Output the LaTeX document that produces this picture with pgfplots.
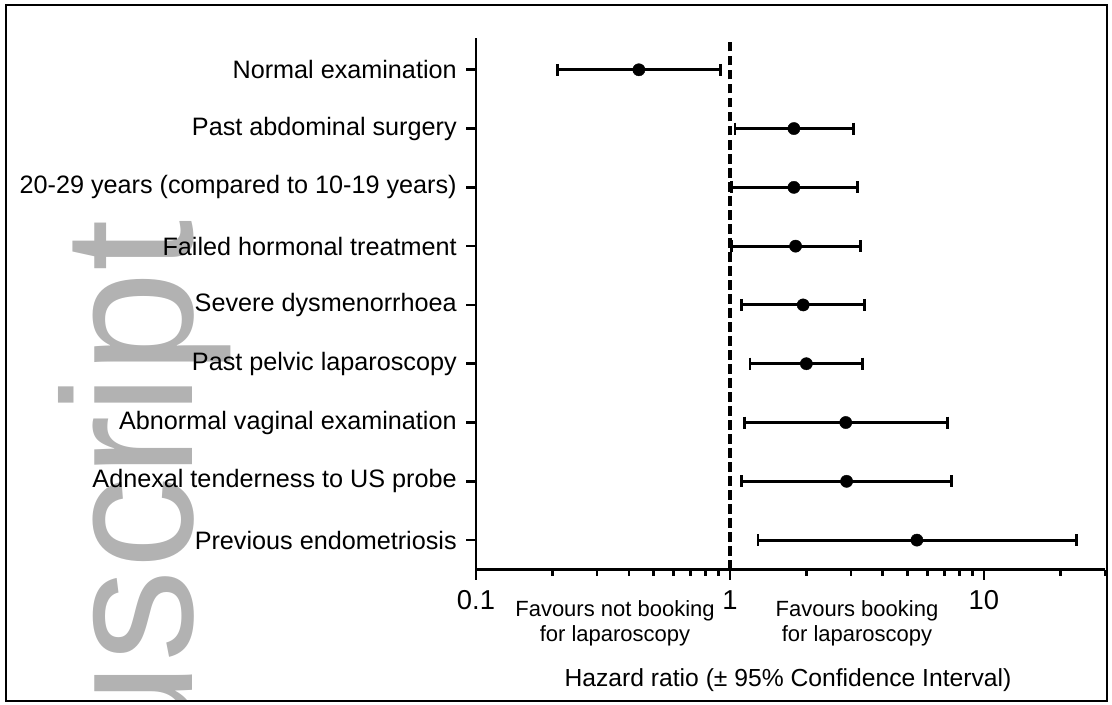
\documentclass[border=0pt]{standalone}
\usepackage{fontspec}
\setmainfont{Liberation Sans}
\usepackage{pgfplots}
\pgfplotsset{compat=1.18}
\begin{document}
\begin{tikzpicture}[x=1pt,y=1pt]
\useasboundingbox (-357,-100.875) rectangle (477,427.125);
\begin{scope}
\clip (-352.5,-98.6) rectangle (473.25,423.4);
\node[rotate=90, anchor=base east, inner sep=0pt, text=black!30, font=\fontsize{138.75}{140}\selectfont] at (-212.25,262.1) {uscript};
\end{scope}
\draw[line width=1.2pt] (-352.5,-98.6) rectangle (473.25,423.4);
\begin{axis}[
  at={(0,0)}, anchor=south west, scale only axis,
  width=471.75pt, height=398.6pt,
  xmode=log, xmin=0.1, xmax=30, ymin=0.5, ymax=9.54,
  axis x line*=bottom, axis y line*=left,
  axis line style={-, line width=2pt, black},
  xtick={0.1,1,10}, xticklabels={0.1,1,10},
  minor xtick={0.2,0.3,0.4,0.5,0.6,0.7,0.8,0.9,2,3,4,5,6,7,8,9,20,30},
  ytick={1,2,3,4,5,6,7,8,9},
  yticklabels={Previous endometriosis, Adnexal tenderness to US probe, Abnormal vaginal examination, Past pelvic laparoscopy, Severe dysmenorrhoea, Failed hormonal treatment, 20-29 years (compared to 10-19 years), Past abdominal surgery, Normal examination},
  tick align=outside, major tick length=7.5pt, minor tick length=4.5pt,
  tick style={line width=2pt, black},
  x tick label style={font=\fontsize{20.5}{24}\selectfont, yshift=-5pt},
  y tick label style={font=\fontsize{18.9}{22}\selectfont, xshift=-3.5pt},
  clip=false,
]
\addplot[black, line width=2.6pt, dash pattern=on 7pt off 3.5pt] coordinates {(1,0.5) (1,9.54)};
\addplot[black, line width=2.2pt, mark=|, mark size=4.5pt, mark options={solid, line width=2.2pt}, unbounded coords=jump] coordinates {
(0.209,9) (0.918,9) (nan,nan)
(1.047,8) (3.07,8) (nan,nan)
(1.015,7) (3.19,7) (nan,nan)
(1.015,6) (3.28,6) (nan,nan)
(1.108,5) (3.40,5) (nan,nan)
(1.20,4) (3.34,4) (nan,nan)
(1.146,3) (7.22,3) (nan,nan)
(1.108,2) (7.44,2) (nan,nan)
(1.29,1) (23.1,1)
};
\addplot[only marks, mark=*, mark size=4.6pt, mark options={fill=black, draw=black, line width=0.3pt}] coordinates {
(0.438,9) (1.787,8) (1.787,7) (1.814,6) (1.943,5) (2.00,4) (2.859,3) (2.88,2) (5.45,1)
};
\end{axis}
\node[align=center, font=\fontsize{16.5}{18.75}\selectfont] at (104.25,-40.1) {Favours not booking\\for laparoscopy};
\node[align=center, font=\fontsize{16.5}{18.75}\selectfont] at (285.75,-40.1) {Favours booking\\for laparoscopy};
\node[font=\fontsize{18.5}{22}\selectfont] at (234,-82.9) {Hazard ratio (± 95\% Confidence Interval)};
\end{tikzpicture}
\end{document}
